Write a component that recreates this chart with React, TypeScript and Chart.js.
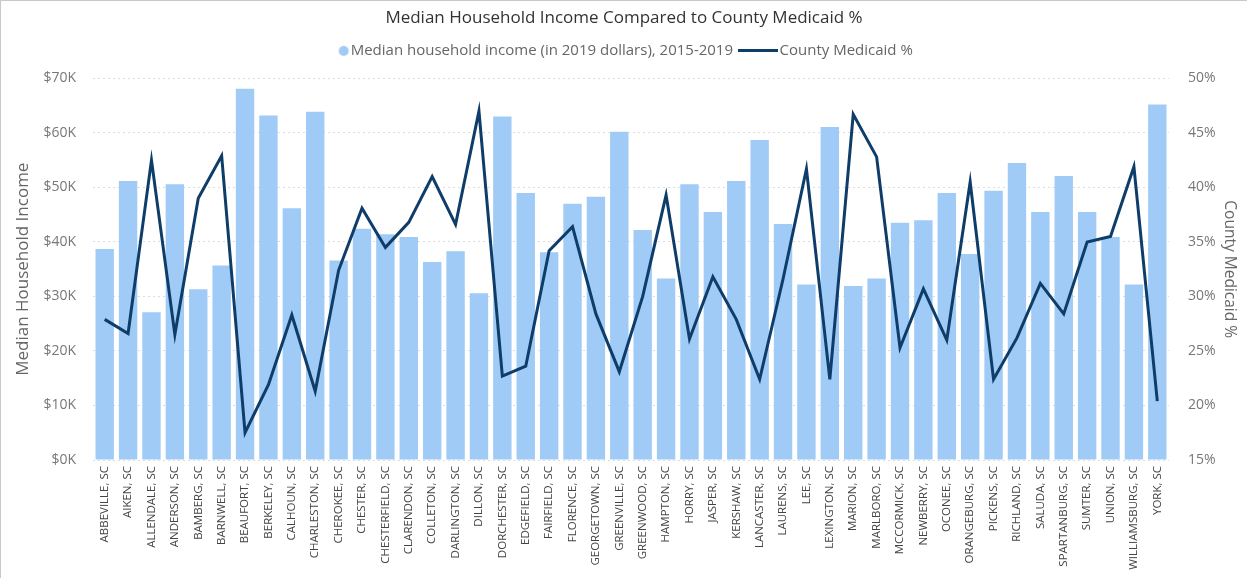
import React, { useEffect, useRef } from "react";
import { Chart, registerables } from "chart.js";

Chart.register(...registerables);

const counties = [
  "ABBEVILLE, SC", "AIKEN, SC", "ALLENDALE, SC", "ANDERSON, SC", "BAMBERG, SC", "BARNWELL, SC",
  "BEAUFORT, SC", "BERKELEY, SC", "CALHOUN, SC", "CHARLESTON, SC", "CHEROKEE, SC", "CHESTER, SC",
  "CHESTERFIELD, SC", "CLARENDON, SC", "COLLETON, SC", "DARLINGTON, SC", "DILLON, SC", "DORCHESTER, SC",
  "EDGEFIELD, SC", "FAIRFIELD, SC", "FLORENCE, SC", "GEORGETOWN, SC", "GREENVILLE, SC", "GREENWOOD, SC",
  "HAMPTON, SC", "HORRY, SC", "JASPER, SC", "KERSHAW, SC", "LANCASTER, SC", "LAURENS, SC",
  "LEE, SC", "LEXINGTON, SC", "MARION, SC", "MARLBORO, SC", "MCCORMICK, SC", "NEWBERRY, SC",
  "OCONEE, SC", "ORANGEBURG, SC", "PICKENS, SC", "RICHLAND, SC", "SALUDA, SC", "SPARTANBURG, SC",
  "SUMTER, SC", "UNION, SC", "WILLIAMSBURG, SC", "YORK, SC",
];

const medianIncome = [
  38700, 51200, 27100, 50600, 31300, 35700,
  68100, 63200, 46200, 63900, 36600, 42400,
  41400, 40900, 36300, 38300, 30600, 63000,
  49000, 38100, 47000, 48300, 60200, 42200,
  33300, 50600, 45500, 51200, 58700, 43300,
  32200, 61100, 31900, 33300, 43500, 44000,
  49000, 37800, 49400, 54500, 45500, 52100,
  45500, 40900, 32200, 65200,
];

const medicaidPct = [
  27.9, 26.6, 42.5, 26.5, 39.0, 42.9,
  17.5, 21.9, 28.3, 21.3, 32.4, 38.1,
  34.5, 36.8, 41.0, 36.6, 47.0, 22.7,
  23.6, 34.2, 36.4, 28.4, 23.1, 30.0,
  39.3, 26.1, 31.8, 27.9, 22.4, 31.6,
  41.7, 22.4, 46.7, 42.8, 25.3, 30.7,
  26.0, 40.5, 22.4, 26.2, 31.2, 28.4,
  35.0, 35.5, 41.9, 20.4,
];

const titleText = "Median Household Income Compared to County Medicaid %";
const barLabel = "Median household income (in 2019 dollars), 2015-2019";
const lineLabel = "County Medicaid %";
const leftAxisTitle = "Median Household Income";
const rightAxisTitle = "County Medicaid %";

const BAR_COLOR = "#9FCBF6";
const LINE_COLOR = "#0F3D6A";
const FONT = "'Open Sans', 'Noto Sans', sans-serif";

function makeCircleIcon(): HTMLCanvasElement {
  const c = document.createElement("canvas");
  c.width = 46;
  c.height = 12;
  const ctx = c.getContext("2d");
  if (ctx) {
    ctx.fillStyle = BAR_COLOR;
    ctx.beginPath();
    ctx.arc(37.5, 6, 5, 0, Math.PI * 2);
    ctx.fill();
  }
  return c;
}

function makeLineIcon(): HTMLCanvasElement {
  const c = document.createElement("canvas");
  c.width = 40;
  c.height = 3;
  const ctx = c.getContext("2d");
  if (ctx) {
    ctx.fillStyle = LINE_COLOR;
    ctx.fillRect(0, 0, 40, 3);
  }
  return c;
}

export default function App() {
  const canvasRef = useRef<HTMLCanvasElement | null>(null);

  useEffect(() => {
    if (!canvasRef.current) return;

    const circleIcon = makeCircleIcon();
    const lineIcon = makeLineIcon();

    const legendHeightPlugin = {
      id: "legendHeight",
      beforeLayout(chart: any) {
        const lg = chart.legend;
        if (lg && !lg.__patched) {
          const origFit = lg.fit.bind(lg);
          lg.fit = function () {
            origFit();
            this.height = 46;
          };
          const origDraw = lg.draw.bind(lg);
          lg.draw = function () {
            const ctx = this.ctx;
            ctx.save();
            ctx.translate(-10, 0);
            origDraw();
            ctx.restore();
          };
          lg.__patched = true;
        }
      },
    };

    const chart = new Chart(canvasRef.current, {
      data: {
        labels: counties,
        datasets: [
          {
            type: "bar",
            label: barLabel,
            data: medianIncome,
            backgroundColor: BAR_COLOR,
            yAxisID: "y",
            barPercentage: 0.786,
            categoryPercentage: 1,
            order: 2,
          },
          {
            type: "line",
            label: lineLabel,
            data: medicaidPct,
            borderColor: LINE_COLOR,
            backgroundColor: LINE_COLOR,
            borderWidth: 3,
            pointRadius: 0,
            tension: 0,
            yAxisID: "y1",
            order: 1,
          },
        ],
      } as any,
      options: {
        animation: false,
        responsive: true,
        maintainAspectRatio: false,
        layout: { padding: { left: 8, right: 8, top: 0, bottom: 4 } },
        plugins: {
          title: {
            display: true,
            text: titleText,
            color: "#333333",
            font: { family: FONT, size: 17, weight: "normal" },
            padding: { top: 7, bottom: 4 },
          },
          legend: {
            display: true,
            position: "top",
            labels: {
              usePointStyle: true,
              pointStyleWidth: 28,
              color: "#666666",
              font: { family: FONT, size: 15 },
              padding: 11,
              sort: (a: any, b: any) => a.datasetIndex - b.datasetIndex,
              generateLabels: (ch: any) => {
                const items = Chart.defaults.plugins.legend.labels.generateLabels(ch);
                items.forEach((it: any) => {
                  it.pointStyle = it.datasetIndex === 0 ? circleIcon : lineIcon;
                });
                return items;
              },
            },
          },
          tooltip: { enabled: false },
        },
        scales: {
          x: {
            grid: { display: false, drawTicks: false },
            border: { display: false },
            ticks: {
              autoSkip: false,
              maxRotation: 90,
              minRotation: 90,
              color: "#444444",
              font: { family: FONT, size: 11.5 },
              padding: 6,
            },
            afterFit: (axis: any) => {
              axis.height = 114;
            },
          },
          y: {
            position: "left",
            min: 0,
            max: 70000,
            ticks: {
              stepSize: 10000,
              color: "#777777",
              font: { family: FONT, size: 14 },
              padding: 17,
              callback: (v: any) => "$" + Number(v) / 1000 + "K",
            },
            grid: {
              color: "#DDDDDD",
              drawTicks: false,
              lineWidth: 1,
            },
            border: { display: false, dash: [2, 3] },
            title: {
              display: true,
              text: leftAxisTitle,
              color: "#666666",
              font: { family: FONT, size: 17 },
              padding: { top: 4, bottom: 0 },
            },
            afterFit: (axis: any) => {
              axis.width = 84;
            },
          },
          y1: {
            position: "right",
            min: 15,
            max: 50,
            ticks: {
              stepSize: 5,
              color: "#777777",
              font: { family: FONT, size: 14 },
              padding: 19,
              callback: (v: any) => v + "%",
            },
            grid: { display: false, drawTicks: false },
            border: { display: false },
            title: {
              display: true,
              text: rightAxisTitle,
              color: "#666666",
              font: { family: FONT, size: 15.5 },
              padding: { top: 0, bottom: 0 },
            },
            afterFit: (axis: any) => {
              axis.width = 70;
            },
          },
        },
      } as any,
      plugins: [legendHeightPlugin],
    });

    return () => {
      chart.destroy();
    };
  }, []);

  return (
    <div
      style={{
        position: "fixed",
        left: 0,
        top: 0,
        width: 1247,
        height: 578,
        background: "#ffffff",
        boxSizing: "border-box",
        borderLeft: "1px solid #C8C8C8",
        borderTop: "1px solid #C8C8C8",
      }}
    >
      <canvas ref={canvasRef} />
    </div>
  );
}
